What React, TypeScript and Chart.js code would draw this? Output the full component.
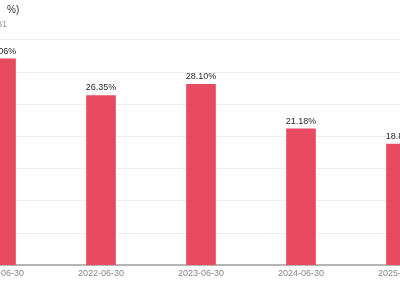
import { useEffect, useRef } from "react";
import { Chart, registerables } from "chart.js";

Chart.register(...registerables);

const categories = ["2021-06-30", "2022-06-30", "2023-06-30", "2024-06-30", "2025-06-30"];
const roeValues = [32.06, 26.35, 28.1, 21.18, 18.82];
const yMin = 0;
const yMax = 35;
const yStep = 5;
const titleText = "净资产收益率(单位： %)";
const subtitleText = "报告期截至  2025-03-31";

const FONT = "'Liberation Sans', Arial, sans-serif";

const valueLabelPlugin = {
  id: "valueLabels",
  afterDatasetsDraw(chart: any) {
    const ctx = chart.ctx;
    const meta = chart.getDatasetMeta(0);
    const data = chart.data.datasets[0].data as number[];
    ctx.save();
    ctx.font = `9px ${FONT}`;
    ctx.fillStyle = "#2a2a2a";
    ctx.textAlign = "center";
    ctx.textBaseline = "bottom";
    meta.data.forEach((bar: any, i: number) => {
      ctx.fillText(`${data[i].toFixed(2)}%`, bar.x, bar.y - 3);
    });
    ctx.restore();
  },
};

export default function App() {
  const canvasRef = useRef<HTMLCanvasElement | null>(null);

  useEffect(() => {
    if (!canvasRef.current) return;
    const chart = new Chart(canvasRef.current, {
      type: "bar",
      data: {
        labels: categories,
        datasets: [
          {
            label: "ROE",
            data: roeValues,
            backgroundColor: "#e84b60",
            barThickness: 29,
          },
        ],
      },
      options: {
        animation: false,
        responsive: true,
        maintainAspectRatio: false,
        layout: { padding: { left: 0, right: 20, top: 0, bottom: 18 } },
        plugins: {
          legend: { display: false },
          tooltip: { enabled: false },
          title: {
            display: true,
            text: titleText,
            align: "start",
            color: "#333333",
            font: { family: FONT, size: 10, weight: "normal" },
            padding: { top: 4, bottom: 3 },
          },
          subtitle: {
            display: true,
            text: subtitleText,
            align: "start",
            color: "#999999",
            font: { family: FONT, size: 9, weight: "normal" },
            padding: { top: 0, bottom: 10 },
          },
        },
        scales: {
          x: {
            grid: { display: false, drawTicks: false },
            border: { display: true, color: "#b5b5b5", width: 2 },
            ticks: {
              color: "#888888",
              font: { family: FONT, size: 9 },
              maxRotation: 0,
              padding: 3,
            },
          },
          y: {
            min: yMin,
            max: yMax,
            ticks: {
              stepSize: yStep,
              color: "#888888",
              font: { family: FONT, size: 9 },
            },
            grid: { color: "#eceef2", drawTicks: false },
            border: { display: false },
            afterFit: (scale: any) => {
              scale.width = 40;
            },
          },
        },
      },
      plugins: [valueLabelPlugin],
    });
    return () => chart.destroy();
  }, []);

  return (
    <div
      style={{
        position: "fixed",
        left: -89,
        top: 0,
        width: 560,
        height: 300,
      }}
    >
      <canvas ref={canvasRef} />
    </div>
  );
}
